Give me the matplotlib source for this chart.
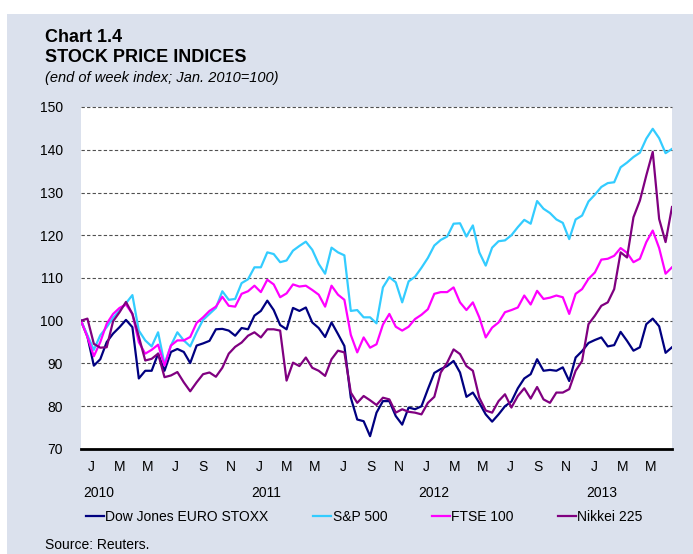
import matplotlib
matplotlib.use("Agg")
import matplotlib.pyplot as plt
from matplotlib.patches import Rectangle
from matplotlib.transforms import blended_transform_factory
import numpy as np

plt.rcParams["font.family"] = ["Liberation Sans", "DejaVu Sans"]

# weeks since the first week of Jan. 2010, sampled every other week
weeks = np.arange(0, 185, 2)

dow_jones = [
    100, 96.3, 89.5, 91, 95, 97, 98.5, 100.2, 98.5, 86.5,
    88.3, 88.3, 92.3, 88.3, 92.7, 93.4, 92.7, 90.1, 94.2, 94.7,
    95.3, 98, 98.1, 97.7, 96.5, 98.3, 98, 101.2, 102.3, 104.7,
    102.5, 99, 98, 103, 102.3, 103.1, 99.6, 98.3, 96.2, 99.6,
    96.9, 94.1, 82, 76.9, 76.5, 73, 78.5, 81.2, 81.2, 77.7,
    75.7, 79.7, 79.3, 80, 84, 87.8, 88.7, 89.4, 90.6, 87.9,
    82.2, 83.2, 80.8, 78.1, 76.4, 78.1, 80, 81.1, 84.2, 86.5,
    87.5, 91, 88.3, 88.5, 88.3, 89.1, 85.9, 91.4, 92.9, 94.8,
    95.5, 96.1, 94, 94.3, 97.4, 95.3, 93, 93.8, 99.2, 100.5,
    98.7, 92.5, 93.8,
]
sp500 = [
    100, 96.6, 93.2, 96.6, 98.5, 100.7, 102.4, 104.1, 106, 97.7,
    95.4, 94, 97.3, 89.9, 94.2, 97.3, 95.4, 94, 97.3, 100.2,
    101.6, 103, 106.9, 104.9, 105.1, 108.8, 109.7, 112.5, 112.5, 116,
    115.6, 113.7, 114.1, 116.4, 117.5, 118.5, 116.6, 113.3, 111, 117.1,
    116, 115.3, 102.3, 102.5, 100.8, 100.8, 99.4, 107.8, 110.2, 109,
    104.3, 109.2, 110.3, 112.4, 114.7, 117.6, 118.9, 119.7, 122.7, 122.8,
    119.7, 122.3, 116, 112.9, 117.1, 118.6, 118.8, 120, 121.9, 123.6,
    122.7, 128, 126.2, 125.2, 123.7, 122.9, 119.1, 123.7, 124.6, 127.9,
    129.5, 131.3, 132.2, 132.4, 135.9, 137, 138.3, 139.3, 142.6, 144.9,
    142.7, 139.2, 140.2,
]
ftse100 = [
    100, 96.2, 91.7, 95, 99.3, 101.6, 103, 103.8, 101.6, 95,
    92.3, 93.2, 94.4, 89.5, 94.2, 95.4, 95.4, 96.2, 99.5, 100.8,
    102.3, 103.3, 105.6, 103.5, 103.3, 106.3, 106.9, 108.2, 106.7, 109.6,
    108.5, 105.5, 106.4, 108.5, 108, 108.2, 107.2, 106.1, 103.3, 108.2,
    106.1, 104.9, 96.7, 92.6, 96.1, 93.7, 94.5, 99.1, 101.6, 98.6,
    97.7, 98.6, 100.4, 101.4, 102.7, 106.3, 106.7, 106.7, 107.8, 104.3,
    102.5, 104.3, 100.8, 96.1, 98.4, 99.6, 102, 102.5, 103.1, 105.9,
    103.8, 107, 105.1, 105.4, 105.9, 105.5, 101.6, 106.3, 107.4, 109.8,
    111.3, 114.3, 114.5, 115.2, 117, 115.9, 113.7, 114.5, 118.4, 121.1,
    117, 111, 112.5,
]
nikkei225 = [
    100, 100.5, 94.6, 93.7, 93.8, 99.9, 102, 104.4, 101.6, 96.3,
    90.7, 91.1, 92.3, 86.8, 87.2, 88, 85.6, 83.5, 85.6, 87.5,
    87.9, 86.9, 89, 92.3, 93.9, 94.9, 96.5, 97.3, 96.1, 98,
    98, 97.7, 86, 90.2, 89.4, 91.4, 89, 88.3, 87.1, 91,
    93, 92.6, 83.2, 80.8, 82.4, 81.4, 80.3, 82, 81.6, 78.5,
    79.3, 78.7, 78.5, 78.1, 80.8, 82.2, 87.9, 90.2, 93.3, 92.2,
    89.4, 88.3, 82, 79, 78.5, 81.2, 82.8, 79.7, 82.4, 84.2,
    81.8, 84.5, 81.6, 80.8, 83.2, 83.2, 84, 88.3, 90.6, 99.2,
    101.2, 103.5, 104.3, 107.4, 116, 114.8, 124.2, 128.1, 134, 139.5,
    123.8, 118.4, 126.6,
]

series_names = ["Dow Jones EURO STOXX", "S&P 500", "FTSE 100", "Nikkei 225"]
series_colors = ["#000080", "#33CCFF", "#FF00FF", "#800080"]

month_labels = ["J", "M", "M", "J", "S", "N"] * 3 + ["J", "M", "M"]
year_labels = ["2010", "2011", "2012", "2013"]

WEEKS_PER_MONTH = 52.18 / 12

fig = plt.figure(figsize=(6.93, 5.54), dpi=100)
fig.patch.set_facecolor("white")
fig.add_artist(Rectangle((7 / 693, 0), 1, 1 - 14 / 554, transform=fig.transFigure,
                         facecolor="#DBE1ED", edgecolor="none", zorder=-10))

ax = fig.add_axes([81 / 693, 1 - 449 / 554, (672 - 81) / 693, (449 - 107) / 554])
ax.set_facecolor("white")

for values, name, color in zip([dow_jones, sp500, ftse100, nikkei225],
                               series_names, series_colors):
    ax.plot(weeks, values, color=color, lw=1.6, label=name, solid_joinstyle="round")

ax.set_xlim(0, 184)
ax.set_ylim(70, 150)
ax.set_yticks(np.arange(70, 151, 10))
for v in range(80, 151, 10):
    ax.axhline(v, color="#505050", lw=0.8, ls=(0, (3, 2)), zorder=0, clip_on=False)

month_pos = [(2 * i + 0.75) * WEEKS_PER_MONTH for i in range(len(month_labels))]
ax.set_xticks(month_pos)
ax.set_xticklabels(month_labels)
ax.tick_params(axis="both", length=0, labelsize=10)
ax.tick_params(axis="x", pad=8)
ax.tick_params(axis="y", pad=13)

for side in ["top", "right", "left"]:
    ax.spines[side].set_visible(False)
ax.spines["bottom"].set_linewidth(2)
ax.spines["bottom"].set_color("black")

trans = blended_transform_factory(ax.transData, fig.transFigure)
for i, year in enumerate(year_labels):
    ax.text((12 * i + 0.75) * WEEKS_PER_MONTH + 2.3, 1 - 493 / 554, year,
            transform=trans, ha="center", va="center", fontsize=10)

fig.text(45 / 693, 1 - 38 / 554, "Chart 1.4", fontsize=13, fontweight="bold", va="center")
fig.text(45 / 693, 1 - 58 / 554, "STOCK PRICE INDICES", fontsize=13, fontweight="bold",
         va="center")
fig.text(45 / 693, 1 - 78 / 554, "(end of week index; Jan. 2010=100)", fontsize=10.5,
         style="italic", va="center")
fig.text(45 / 693, 1 - 545 / 554, "Source: Reuters.", fontsize=10, va="center")

fig.legend(loc="center left", bbox_to_anchor=(86 / 693, 1 - 517 / 554), ncol=4,
           frameon=False, fontsize=10, handlelength=1.3, handletextpad=0.1,
           columnspacing=3.2, borderpad=0, borderaxespad=0)

fig.savefig("out.png", dpi=100, facecolor=fig.get_facecolor())
